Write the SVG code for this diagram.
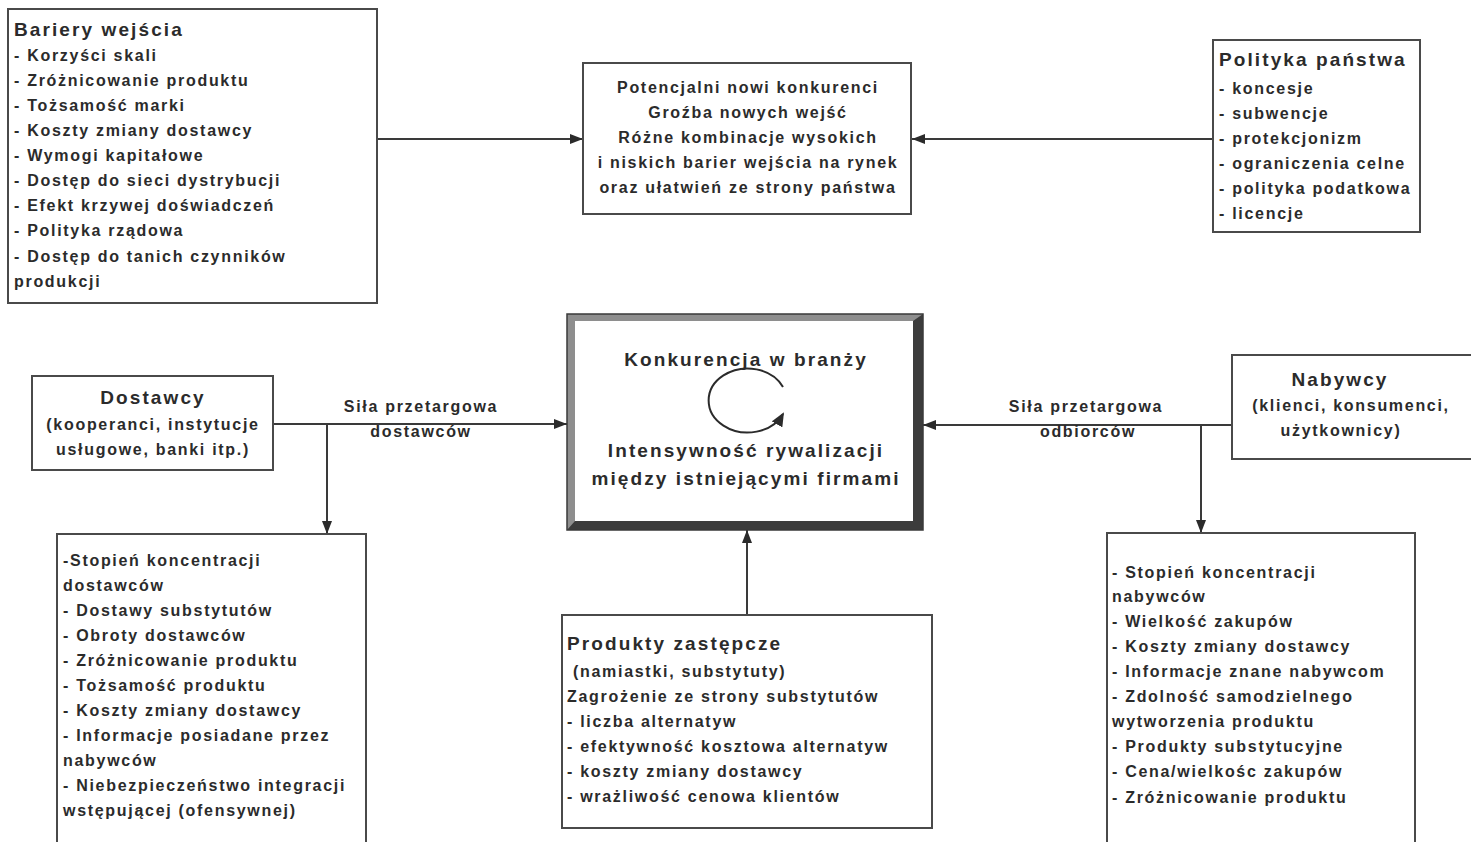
<svg xmlns="http://www.w3.org/2000/svg" width="1471" height="842" viewBox="0 0 1471 842">
  <style>
    .box { fill: #ffffff; stroke: #4a4a4a; stroke-width: 2; }
    .t { font-family: "Liberation Sans", Arial, sans-serif; font-weight: bold; font-size: 16px; letter-spacing: 1.7px; fill: #2b2b2b; }
    .h { font-family: "Liberation Sans", Arial, sans-serif; font-weight: bold; font-size: 19px; letter-spacing: 2.1px; fill: #2b2b2b; }
    .c { text-anchor: middle; }
    .link { fill: none; stroke: #3a3a3a; stroke-width: 2; }
  </style>
  <defs>
    <marker id="arrow" markerUnits="userSpaceOnUse" viewBox="0 0 13 10" refX="13" refY="5" markerWidth="13" markerHeight="10" orient="auto">
      <path d="M0,0 L13,5 L0,10 z" fill="#2b2b2b"/>
    </marker>
    <marker id="arrow-loop" markerUnits="userSpaceOnUse" viewBox="0 0 14 12" refX="12" refY="6" markerWidth="14" markerHeight="12" orient="auto">
      <path d="M0,0 L14,6 L0,12 z" fill="#2b2b2b"/>
    </marker>
  </defs>

  <rect width="1471" height="842" fill="#ffffff"/>

  <!-- connectors -->
  <g id="connectors">
    <line class="link" x1="377" y1="139" x2="583" y2="139" marker-end="url(#arrow)"/>
    <line class="link" x1="1213" y1="139" x2="912" y2="139" marker-end="url(#arrow)"/>
    <line class="link" x1="273" y1="424" x2="567" y2="424" marker-end="url(#arrow)"/>
    <line class="link" x1="327" y1="424" x2="327" y2="534" marker-end="url(#arrow)"/>
    <line class="link" x1="1232" y1="425" x2="923" y2="425" marker-end="url(#arrow)"/>
    <line class="link" x1="1201" y1="425" x2="1201" y2="533" marker-end="url(#arrow)"/>
    <line class="link" x1="747" y1="615" x2="747" y2="530" marker-end="url(#arrow)"/>
    <text class="t c" x="421" y="412">Siła przetargowa</text>
    <text class="t c" x="421" y="437">dostawców</text>
    <text class="t c" x="1086" y="412">Siła przetargowa</text>
    <text class="t c" x="1088" y="437">odbiorców</text>
  </g>

  <!-- barriers to entry -->
  <g id="bariery">
    <rect class="box" x="8" y="9" width="369" height="294"/>
    <text class="h" x="14" y="36">Bariery wejścia</text>
    <text class="t" x="14" y="61">- Korzyści skali</text>
    <text class="t" x="14" y="86">- Zróżnicowanie produktu</text>
    <text class="t" x="14" y="111">- Tożsamość marki</text>
    <text class="t" x="14" y="136">- Koszty zmiany dostawcy</text>
    <text class="t" x="14" y="161">- Wymogi kapitałowe</text>
    <text class="t" x="14" y="186">- Dostęp do sieci dystrybucji</text>
    <text class="t" x="14" y="211">- Efekt krzywej doświadczeń</text>
    <text class="t" x="14" y="236">- Polityka rządowa</text>
    <text class="t" x="14" y="262">- Dostęp do tanich czynników</text>
    <text class="t" x="14" y="287">produkcji</text>
  </g>

  <!-- potential entrants -->
  <g id="nowi-konkurenci">
    <rect class="box" x="583" y="63" width="328" height="151"/>
    <text class="t c" x="748" y="93">Potencjalni nowi konkurenci</text>
    <text class="t c" x="748" y="118">Groźba nowych wejść</text>
    <text class="t c" x="748" y="143">Różne kombinacje wysokich</text>
    <text class="t c" x="748" y="168">i niskich barier wejścia na rynek</text>
    <text class="t c" x="748" y="193">oraz ułatwień ze strony państwa</text>
  </g>

  <!-- government policy -->
  <g id="polityka">
    <rect class="box" x="1213" y="40" width="207" height="192"/>
    <text class="h" x="1219" y="66">Polityka państwa</text>
    <text class="t" x="1219" y="94">- koncesje</text>
    <text class="t" x="1219" y="119">- subwencje</text>
    <text class="t" x="1219" y="144">- protekcjonizm</text>
    <text class="t" x="1219" y="169">- ograniczenia celne</text>
    <text class="t" x="1219" y="194">- polityka podatkowa</text>
    <text class="t" x="1219" y="219">- licencje</text>
  </g>

  <!-- industry rivalry, bevelled frame -->
  <g id="konkurencja">
    <rect x="567" y="314" width="356" height="216" fill="#8e8e8e"/>
    <polygon points="923,314 923,530 567,530 575,521 913,521 913,321" fill="#3c3c3c"/>
    <rect x="575" y="321" width="338" height="200" fill="#ffffff"/>
    <rect x="567" y="314" width="356" height="216" fill="none" stroke="#3a3a3a" stroke-width="1.5"/>
    <text class="h c" x="746" y="366">Konkurencja w branży</text>
    <path d="M 783,387 A 39,32 0 1 0 783,414" fill="none" stroke="#2b2b2b" stroke-width="2" marker-end="url(#arrow-loop)"/>
    <text class="h c" x="746" y="457">Intensywność rywalizacji</text>
    <text class="h c" x="746" y="485">między istniejącymi firmami</text>
  </g>

  <!-- suppliers -->
  <g id="dostawcy">
    <rect class="box" x="32" y="376" width="241" height="94"/>
    <text class="h c" x="153" y="404">Dostawcy</text>
    <text class="t c" x="153" y="430">(kooperanci, instytucje</text>
    <text class="t c" x="153" y="455">usługowe, banki itp.)</text>
  </g>

  <!-- buyers -->
  <g id="nabywcy">
    <rect class="box" x="1232" y="355" width="260" height="104"/>
    <text class="h c" x="1340" y="386">Nabywcy</text>
    <text class="t c" x="1351" y="411">(klienci, konsumenci,</text>
    <text class="t c" x="1341" y="436">użytkownicy)</text>
  </g>

  <!-- supplier power factors -->
  <g id="czynniki-dostawcow">
    <rect class="box" x="57" y="534" width="309" height="330"/>
    <text class="t" x="63" y="566">-Stopień koncentracji</text>
    <text class="t" x="63" y="591">dostawców</text>
    <text class="t" x="63" y="616">- Dostawy substytutów</text>
    <text class="t" x="63" y="641">- Obroty dostawców</text>
    <text class="t" x="63" y="666">- Zróżnicowanie produktu</text>
    <text class="t" x="63" y="691">- Tożsamość produktu</text>
    <text class="t" x="63" y="716">- Koszty zmiany dostawcy</text>
    <text class="t" x="63" y="741">- Informacje posiadane przez</text>
    <text class="t" x="63" y="766">nabywców</text>
    <text class="t" x="63" y="791">- Niebezpieczeństwo integracji</text>
    <text class="t" x="63" y="816">wstępującej (ofensywnej)</text>
  </g>

  <!-- substitutes -->
  <g id="produkty-zastepcze">
    <rect class="box" x="562" y="615" width="370" height="213"/>
    <text class="h" x="567" y="650">Produkty zastępcze</text>
    <text class="t" x="573" y="677">(namiastki, substytuty)</text>
    <text class="t" x="567" y="702">Zagrożenie ze strony substytutów</text>
    <text class="t" x="567" y="727">- liczba alternatyw</text>
    <text class="t" x="567" y="752">- efektywność kosztowa alternatyw</text>
    <text class="t" x="567" y="777">- koszty zmiany dostawcy</text>
    <text class="t" x="567" y="802">- wrażliwość cenowa klientów</text>
  </g>

  <!-- buyer power factors -->
  <g id="czynniki-nabywcow">
    <rect class="box" x="1107" y="533" width="308" height="330"/>
    <text class="t" x="1112" y="578">- Stopień koncentracji</text>
    <text class="t" x="1112" y="602">nabywców</text>
    <text class="t" x="1112" y="627">- Wielkość zakupów</text>
    <text class="t" x="1112" y="652">- Koszty zmiany dostawcy</text>
    <text class="t" x="1112" y="677">- Informacje znane nabywcom</text>
    <text class="t" x="1112" y="702">- Zdolność samodzielnego</text>
    <text class="t" x="1112" y="727">wytworzenia produktu</text>
    <text class="t" x="1112" y="752">- Produkty substytucyjne</text>
    <text class="t" x="1112" y="777">- Cena/wielkośc zakupów</text>
    <text class="t" x="1112" y="803">- Zróżnicowanie produktu</text>
  </g>
</svg>
